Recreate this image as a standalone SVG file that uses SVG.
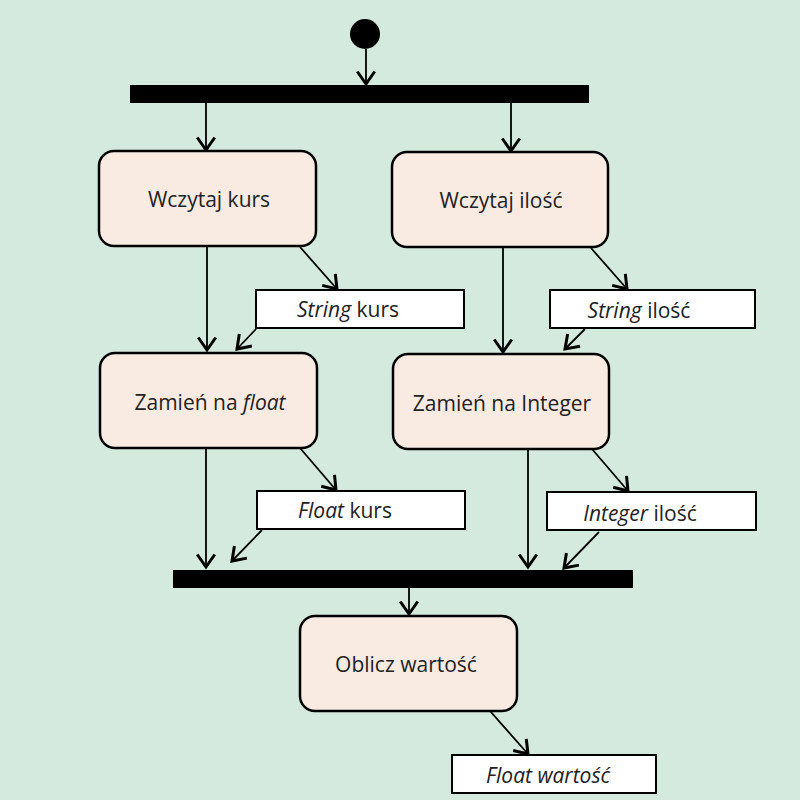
<svg xmlns="http://www.w3.org/2000/svg" width="800" height="800" viewBox="0 0 800 800">
<style>
.bg{fill:#d5eade}
.act{fill:#f9ebe2;stroke:#000;stroke-width:2.5}
.obj{fill:#fff;stroke:#000;stroke-width:2}
.bar{fill:#000}
.t{font-family:"Open Sans",sans-serif;font-size:21px;fill:#222;text-anchor:middle;dominant-baseline:central}
.i{font-style:italic}
.c{stroke:#000;stroke-width:1.8;fill:none;marker-end:url(#ah)}
</style>
<defs>
<marker id="ah" markerUnits="userSpaceOnUse" markerWidth="20" markerHeight="20" viewBox="-12 -8 14 16" refX="0" refY="0" orient="auto">
<path d="M-10,-7 L0,0 L-10,7" fill="none" stroke="#000" stroke-width="2.4"/>
</marker>
</defs>
<rect class="bg" x="0" y="0" width="800" height="800"/>
<g id="connectors">
<line class="c" x1="366" y1="49" x2="366" y2="84"/>
<line class="c" x1="206" y1="103" x2="206" y2="150"/>
<line class="c" x1="511" y1="103" x2="511" y2="151"/>
<line class="c" x1="207" y1="247" x2="207" y2="350"/>
<line class="c" x1="300" y1="247" x2="337" y2="289"/>
<line class="c" x1="256" y1="329" x2="237" y2="349"/>
<line class="c" x1="503" y1="248" x2="503" y2="352"/>
<line class="c" x1="591" y1="248" x2="627" y2="289"/>
<line class="c" x1="585" y1="329" x2="565" y2="349"/>
<line class="c" x1="206" y1="448" x2="206" y2="567"/>
<line class="c" x1="300" y1="448" x2="336" y2="490"/>
<line class="c" x1="262" y1="530" x2="232" y2="561"/>
<line class="c" x1="528" y1="449" x2="528" y2="567"/>
<line class="c" x1="592" y1="449" x2="628" y2="491"/>
<line class="c" x1="599" y1="532" x2="564" y2="568"/>
<line class="c" x1="409" y1="588" x2="409" y2="614"/>
<line class="c" x1="490" y1="711" x2="528" y2="754"/>
</g>
<g id="start"><circle cx="365" cy="34" r="15" fill="#000"/></g>
<g id="fork"><rect class="bar" x="130" y="85" width="459" height="18"/></g>
<g id="join"><rect class="bar" x="173" y="570" width="460" height="18"/></g>
<g id="wczytaj-kurs"><rect class="act" x="99" y="151" width="217" height="95" rx="15"/><text class="t" x="209" y="199">Wczytaj kurs</text></g>
<g id="wczytaj-ilosc"><rect class="act" x="392" y="152" width="216" height="95" rx="15"/><text class="t" x="501" y="200">Wczytaj ilość</text></g>
<g id="string-kurs"><rect class="obj" x="256" y="290" width="208" height="38"/><text class="t" x="348" y="309"><tspan class="i">String</tspan> kurs</text></g>
<g id="string-ilosc"><rect class="obj" x="550" y="290" width="205" height="38"/><text class="t" x="639" y="310"><tspan class="i">String</tspan> ilość</text></g>
<g id="zamien-float"><rect class="act" x="100" y="353" width="217" height="95" rx="15"/><text class="t" x="210" y="402">Zamień na <tspan class="i">float</tspan></text></g>
<g id="zamien-integer"><rect class="act" x="393" y="354" width="216" height="95" rx="15"/><text class="t" x="502" y="403">Zamień na Integer</text></g>
<g id="float-kurs"><rect class="obj" x="257" y="491" width="208" height="38"/><text class="t" x="345" y="510"><tspan class="i">Float</tspan> kurs</text></g>
<g id="integer-ilosc"><rect class="obj" x="547" y="492" width="209" height="38"/><text class="t" x="640" y="513"><tspan class="i">Integer</tspan> ilość</text></g>
<g id="oblicz"><rect class="act" x="300" y="616" width="217" height="95" rx="15"/><text class="t" x="406" y="664">Oblicz wartość</text></g>
<g id="float-wartosc"><rect class="obj" x="452" y="755" width="204" height="38"/><text class="t i" x="548" y="775">Float wartość</text></g>
</svg>
